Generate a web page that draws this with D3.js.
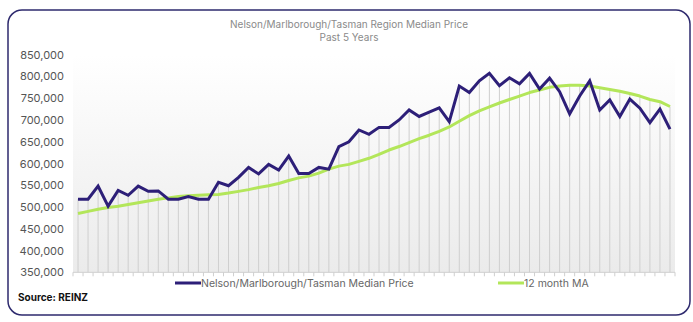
<!DOCTYPE html>
<html>
<head>
<meta charset="utf-8">
<script src="https://cdn.jsdelivr.net/npm/d3@7"></script>
<style>
  html, body { margin: 0; padding: 0; background: #fff; }
  svg { display: block; font-family: Inter, "Noto Sans", sans-serif; }
</style>
</head>
<body>
<svg id="chart" width="693" height="322"></svg>
<script>
// Monthly median price, last 5 years (60 months)
const months = d3.range(60);
const medianPrice = [
  518000, 518000, 548000, 502000, 538000, 527000, 548000, 536000, 537000, 518000,
  518000, 524000, 518000, 518000, 557000, 549000, 568000, 591000, 576000, 598000,
  585000, 617000, 577000, 577000, 591000, 587000, 639000, 650000, 677000, 667000,
  683000, 683000, 700000, 723000, 708000, 718000, 728000, 696000, 778000, 763000,
  790000, 807000, 779000, 797000, 783000, 807000, 771000, 796000, 765000, 714000,
  755000, 790000, 723000, 746000, 708000, 748000, 727000, 694000, 725000, 679000
];
// 12 month moving average
const movingAvg = [
  485000, 490000, 495000, 499000, 502000, 506000, 510000, 514000, 518000, 521000,
  524000, 526000, 527000, 528000, 529000, 532000, 536000, 540000, 545000, 549000,
  554000, 561000, 567000, 571000, 578000, 587000, 594000, 598000, 605000, 612000,
  621000, 631000, 639000, 648000, 657000, 665000, 674000, 684000, 697000, 710000,
  721000, 730000, 739000, 747000, 755000, 763000, 769000, 775000, 778000, 780000,
  780000, 778000, 774000, 770000, 766000, 761000, 755000, 747000, 742000, 731000
];
const yTicks = [350000, 400000, 450000, 500000, 550000, 600000, 650000, 700000, 750000, 800000, 850000];
const titleLines = ["Nelson/Marlborough/Tasman Region Median Price", "Past 5 Years"];
const seriesNames = ["Nelson/Marlborough/Tasman Median Price", "12 month MA"];
const source = "Source: REINZ";

const purple = "#2d1f78";
const green = "#b3e65a";

const svg = d3.select("#chart");

// outer frame
svg.append("rect")
  .attr("x", 8).attr("y", 10).attr("width", 682).attr("height", 305)
  .attr("rx", 14).attr("ry", 14)
  .attr("fill", "#fff").attr("stroke", "#2e2a6e").attr("stroke-width", 1.5);

// title
svg.append("g").selectAll("text").data(titleLines).join("text")
  .attr("x", 349).attr("y", (d, i) => 28 + i * 13)
  .attr("text-anchor", "middle")
  .attr("font-size", 10).attr("fill", "#8a8a8a")
  .text(d => d);

const plot = { left: 73, right: 675, top: 54.7, bottom: 272.3 };

const x = d3.scaleBand().domain(months).range([plot.left, plot.right]).padding(0);
const cx = i => x(i) + x.bandwidth() / 2;
const y = d3.scaleLinear().domain([350000, 850000]).range([plot.bottom, plot.top]);

// plot background gradient
const defs = svg.append("defs");
const grad = defs.append("linearGradient").attr("id", "bg").attr("x1", 0).attr("y1", 0).attr("x2", 0).attr("y2", 1);
grad.append("stop").attr("offset", "0%").attr("stop-color", "#ffffff");
grad.append("stop").attr("offset", "100%").attr("stop-color", "#ebebeb");
svg.append("rect")
  .attr("x", plot.left).attr("y", plot.top)
  .attr("width", plot.right - plot.left).attr("height", plot.bottom - plot.top)
  .attr("fill", "url(#bg)");

// drop lines from highest point to the category axis
svg.append("g").selectAll("line").data(months).join("line")
  .attr("x1", d => cx(d)).attr("x2", d => cx(d))
  .attr("y1", d => y(Math.max(medianPrice[d], movingAvg[d])))
  .attr("y2", plot.bottom)
  .attr("stroke", "#cfcfcf").attr("stroke-width", 1);

// category axis with tick marks between categories
const xAxisG = svg.append("g");
xAxisG.append("line")
  .attr("x1", plot.left).attr("x2", plot.right)
  .attr("y1", plot.bottom).attr("y2", plot.bottom)
  .attr("stroke", "#cfcfcf");
xAxisG.selectAll("line.tick").data(d3.range(61)).join("line")
  .attr("class", "tick")
  .attr("x1", d => plot.left + d * x.bandwidth()).attr("x2", d => plot.left + d * x.bandwidth())
  .attr("y1", plot.bottom).attr("y2", plot.bottom + 4)
  .attr("stroke", "#cfcfcf");

// value axis labels
const yAxis = d3.axisLeft(y).tickValues(yTicks).tickSize(0).tickPadding(0)
  .tickFormat(d3.format(","));
const yg = svg.append("g").attr("transform", `translate(64,0)`).call(yAxis);
yg.select(".domain").remove();
yg.selectAll("text").attr("font-size", 11).attr("fill", "#555").attr("font-family", "Inter, 'Noto Sans', sans-serif");

// series lines
const line = data => d3.line().x((d, i) => cx(i)).y(d => y(d))(data);
svg.append("path").attr("d", line(movingAvg))
  .attr("fill", "none").attr("stroke", green).attr("stroke-width", 3).attr("stroke-linejoin", "round");
svg.append("path").attr("d", line(medianPrice))
  .attr("fill", "none").attr("stroke", purple).attr("stroke-width", 3).attr("stroke-linejoin", "miter");

// legend
const legend = [
  { name: seriesNames[0], color: purple, x: 175 },
  { name: seriesNames[1], color: green, x: 498 }
];
const lg = svg.append("g").selectAll("g").data(legend).join("g")
  .attr("transform", d => `translate(${d.x},283)`);
lg.append("line").attr("x1", 0).attr("x2", 26).attr("y1", 0).attr("y2", 0)
  .attr("stroke", d => d.color).attr("stroke-width", 3);
lg.append("text").attr("x", 26).attr("y", 3.5)
  .attr("font-size", 10.5).attr("fill", "#666").text(d => d.name);

// source note
svg.append("text").attr("x", 18).attr("y", 301)
  .attr("font-size", 10).attr("font-weight", 700).attr("fill", "#111")
  .text(source);
</script>
</body>
</html>
